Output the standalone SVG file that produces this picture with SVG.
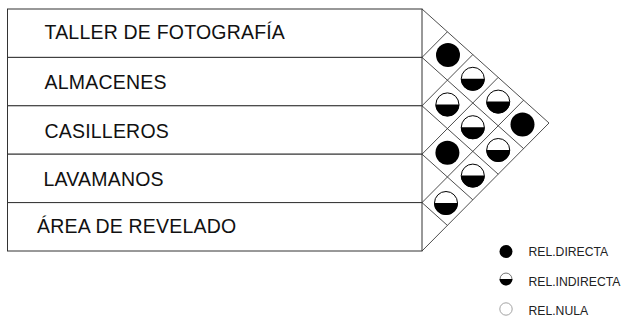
<svg xmlns="http://www.w3.org/2000/svg" xmlns:xlink="http://www.w3.org/1999/xlink" width="625" height="322" viewBox="0 0 625 322">
<style>
.box{fill:#fff;stroke:#333;stroke-width:1}
.lbl{font-family:"Liberation Sans",Arial,sans-serif;font-size:19.5px;letter-spacing:0.2px;fill:#111}
.grid{fill:none;stroke:#3a3a3a;stroke-width:0.9}
.leg{font-family:"Liberation Sans",Arial,sans-serif;font-size:12.2px;fill:#222}
</style>
<defs>
<g id="full"><circle r="12" fill="#000"/></g>
<g id="half"><circle r="11.5" fill="#fff" stroke="#000" stroke-width="1"/><path d="M-12,0 A12,12 0 0 0 12,0 Z" fill="#000"/></g>
</defs>
<rect width="625" height="322" fill="#fff"/>
<g id="row1"><rect class="box" x="7.5" y="9" width="414.5" height="48.4"/><text class="lbl" x="44.5" y="38.5">TALLER DE FOTOGRAFÍA</text></g>
<g id="row2"><rect class="box" x="7.5" y="57.4" width="414.5" height="48.4"/><text class="lbl" x="44.5" y="89">ALMACENES</text></g>
<g id="row3"><rect class="box" x="7.5" y="105.8" width="414.5" height="48.4"/><text class="lbl" x="44.5" y="138.3">CASILLEROS</text></g>
<g id="row4"><rect class="box" x="7.5" y="154.2" width="414.5" height="48.4"/><text class="lbl" x="43.5" y="185.7">LAVAMANOS</text></g>
<g id="row5"><rect class="box" x="7.5" y="202.6" width="414.5" height="48.4"/><text class="lbl" x="37" y="233.3">ÁREA DE REVELADO</text></g>
<g id="matrix">
<path class="grid" d="M422,9 L549,123 L422,251"/>
<path class="grid" d="M422,57.4 L523.6,148.6 M422,105.8 L498.2,174.2 M422,154.2 L472.8,199.8 M422,202.6 L447.4,225.4"/>
<path class="grid" d="M422,57.4 L447.4,31.8 M422,105.8 L472.8,54.6 M422,154.2 L498.2,77.4 M422,202.6 L523.6,100.2"/>
</g>
<g id="relations">
<use xlink:href="#full" x="448" y="55"/>
<use xlink:href="#half" x="472.8" y="78.8"/>
<use xlink:href="#half" x="498.2" y="101.6"/>
<use xlink:href="#full" x="522.5" y="124.4"/>
<use xlink:href="#half" x="447.4" y="104.4"/>
<use xlink:href="#half" x="472.8" y="127.2"/>
<use xlink:href="#half" x="498.2" y="150"/>
<use xlink:href="#full" x="447.4" y="152.8"/>
<use xlink:href="#half" x="472.8" y="175.6"/>
<use xlink:href="#half" x="446" y="203"/>
</g>
<g id="legend">
<circle cx="506" cy="251.5" r="6.5" fill="#000"/>
<g transform="translate(506,279) scale(0.54)"><circle r="11" fill="#fff" stroke="#555" stroke-width="1.5"/><path d="M-12,0 A12,12 0 0 0 12,0 Z" fill="#000"/></g>
<circle cx="506" cy="309" r="6.2" fill="#fff" stroke="#999" stroke-width="0.9"/>
<text class="leg" x="528.5" y="256">REL.DIRECTA</text>
<text class="leg" x="528.5" y="285.7">REL.INDIRECTA</text>
<text class="leg" x="528.5" y="315">REL.NULA</text>
</g>
</svg>
